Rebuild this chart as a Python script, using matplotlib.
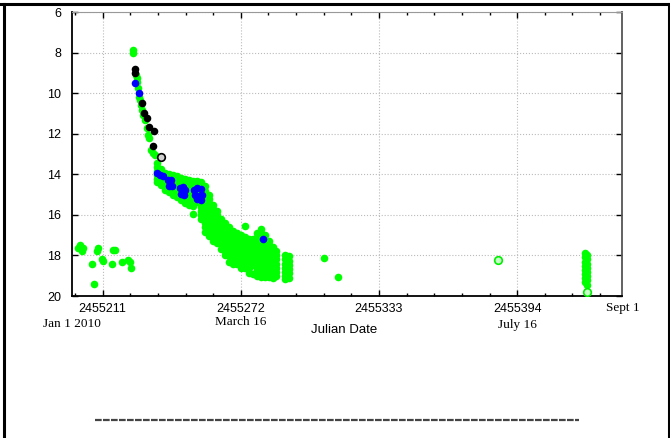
import matplotlib
matplotlib.use('Agg')
import matplotlib.pyplot as plt
from matplotlib.ticker import AutoMinorLocator, FixedLocator, FixedFormatter
from matplotlib.lines import Line2D

# green observations: (julian date, [magnitudes on that night])
green_nights = [
    (2455200.3, [17.65]), (2455201.0, [17.48]), (2455201.8, [17.8]),
    (2455202.5, [17.65]), (2455206.2, [18.42]), (2455207.2, [19.41]),
    (2455208.4, [17.8]), (2455209.1, [17.65]), (2455210.6, [18.19]),
    (2455211.3, [18.26]), (2455215.3, [18.42]), (2455215.7, [17.73]),
    (2455216.5, [17.73]), (2455219.4, [18.34]), (2455222.4, [18.22]),
    (2455223.1, [18.34]), (2455223.4, [18.63]),
    (2455224.6, [7.87, 8.04]), (2455225.8, [9.1]), (2455226.1, [9.27]),
    (2455226.3, [9.43]), (2455226.8, [9.76]), (2455227.2, [10.17]),
    (2455227.5, [10.34]), (2455228.0, [10.58]), (2455228.3, [10.83]),
    (2455229.0, [11.08]), (2455229.9, [11.32]), (2455230.7, [11.73]),
    (2455231.2, [12.06]), (2455231.6, [12.22]), (2455232.2, [12.8]),
    (2455233.1, [12.96]), (2455234.1, [13.05]),
    (2455235.0, [13.45, 13.65, 13.85, 14.05, 14.25, 14.4]),
    (2455236.8, [13.75, 13.95, 14.15, 14.35, 14.55]),
    (2455238.6, [13.95, 14.15, 14.35, 14.55, 14.75]),
    (2455240.3, [14.0, 14.2, 14.4, 14.6, 14.85]),
    (2455242.1, [14.05, 14.25, 14.45, 14.65, 14.85, 15.0]),
    (2455243.9, [14.1, 14.3, 14.5, 14.7, 14.9, 15.1]),
    (2455245.6, [14.2, 14.4, 14.6, 14.8, 15.0, 15.25]),
    (2455247.4, [14.25, 14.45, 14.65, 14.85, 15.05, 15.25, 15.4]),
    (2455249.2, [14.3, 14.5, 14.7, 14.9, 15.1, 15.3, 15.5]),
    (2455250.9, [14.35, 14.55, 14.75, 14.95, 15.15, 15.35, 15.55, 15.95]),
    (2455252.7, [14.35, 14.55, 14.75, 14.95, 15.15, 15.35]),
    (2455254.5, [14.4, 14.6, 14.8, 15.0, 15.2, 15.4, 15.6, 15.8, 16.0, 16.2]),
    (2455256.2, [14.6, 14.8, 15.0, 15.2, 15.4, 15.6, 15.8, 16.0, 16.2, 16.4, 16.6, 16.85]),
    (2455258.0, [15.0, 15.2, 15.4, 15.6, 15.8, 16.0, 16.2, 16.4, 16.6, 16.8, 17.05]),
    (2455259.8, [15.5, 15.7, 15.9, 16.1, 16.3, 16.5, 16.7, 16.9, 17.1, 17.3]),
    (2455261.5, [15.8, 16.0, 16.2, 16.4, 16.6, 16.8, 17.0, 17.2, 17.4]),
    (2455263.3, [16.2, 16.4, 16.6, 16.8, 17.0, 17.2, 17.45, 17.7]),
    (2455265.0, [16.4, 16.6, 16.8, 17.0, 17.2, 17.4, 17.6, 17.8, 18.0]),
    (2455266.8, [16.6, 16.8, 17.0, 17.2, 17.4, 17.6, 17.8, 18.05, 18.3]),
    (2455268.6, [16.8, 17.0, 17.2, 17.4, 17.6, 17.8, 18.0, 18.2, 18.4]),
    (2455270.3, [16.9, 17.1, 17.3, 17.5, 17.7, 17.9, 18.1, 18.4]),
    (2455272.1, [17.0, 17.2, 17.4, 17.6, 17.8, 18.0, 18.2, 18.4, 18.6]),
    (2455273.9, [16.55, 17.1, 17.3, 17.5, 17.7, 17.9, 18.1, 18.3, 18.6]),
    (2455275.6, [17.2, 17.4, 17.6, 17.8, 18.0, 18.2, 18.4, 18.6, 18.85]),
    (2455277.4, [17.2, 17.4, 17.6, 17.8, 18.0, 18.2, 18.45, 18.9]),
    (2455279.2, [16.9, 17.1, 17.3, 17.5, 17.7, 17.9, 18.1, 18.3, 18.5, 18.7, 19.0]),
    (2455280.9, [16.7, 16.9, 17.1, 17.3, 17.5, 17.7, 17.9, 18.1, 18.3, 18.5, 18.7, 18.9, 19.05]),
    (2455282.7, [17.0, 17.3, 17.5, 17.7, 17.9, 18.1, 18.3, 18.5, 18.7, 18.9, 19.05]),
    (2455284.5, [17.3, 17.5, 17.7, 17.9, 18.1, 18.3, 18.5, 18.7, 18.9, 19.05]),
    (2455286.2, [17.6, 17.8, 18.0, 18.2, 18.4, 18.6, 18.8, 19.1]),
    (2455287.6, [17.8, 18.0, 18.2, 18.4, 18.6, 18.8, 19.0]),
    (2455291.5, [18.0, 18.2, 18.4, 18.6, 18.8, 19.0, 19.15]),
    (2455293.3, [18.05, 18.25, 18.45, 18.65, 18.85, 19.1]),
    (2455308.8, [18.14]), (2455314.8, [19.04]),
    (2455423.8, [17.9, 18.1, 18.3, 18.5, 18.7, 18.9, 19.1, 19.3]),
    (2455424.8, [18.0, 18.2, 18.4, 18.6, 18.8, 19.0, 19.2, 19.45]),
]
# green points drawn as rings
green_open_jd = [2455385.7, 2455424.9]
green_open_mag = [18.22, 19.8]

black_jd = [2455225.1, 2455225.4, 2455228.3, 2455229.3, 2455230.5,
            2455231.5, 2455233.7, 2455233.4]
black_mag = [8.82, 9.02, 10.5, 10.99, 11.24, 11.68, 11.85, 12.6]
black_open_jd = [2455236.8]
black_open_mag = [13.16]

blue_jd = [2455225.3, 2455227.2, 2455234.9, 2455236.4, 2455237.8,
           2455239.9, 2455240.8, 2455241.7, 2455240.3, 2455241.3,
           2455245.2, 2455246.3, 2455247.4, 2455245.6, 2455246.8, 2455246.3,
           2455251.3, 2455252.7, 2455254.5, 2455251.8, 2455253.6, 2455254.9,
           2455254.5, 2455252.5, 2455282.0]
blue_mag = [9.51, 9.98, 13.92, 14.03, 14.1,
            14.3, 14.4, 14.6, 14.6, 14.3,
            14.7, 14.62, 14.75, 14.95, 15.0, 14.85,
            14.75, 14.7, 14.72, 15.0, 15.05, 15.0,
            15.25, 15.2, 17.17]

jd_ticks = [2455211, 2455272, 2455333, 2455394]
jd_labels = ['2455211', '2455272', '2455333', '2455394']
mag_ticks = [6, 8, 10, 12, 14, 16, 18, 20]
date_marks = [(2455197.5, 'Jan 1 2010', -0.097),
              (2455272, 'March 16', -0.093),
              (2455394, 'July 16', -0.101),
              (2455440.5, 'Sept 1', -0.042)]

plt.rcParams['font.family'] = ['Liberation Sans', 'DejaVu Sans']

green_jd = [jd for jd, mags in green_nights for m in mags]
green_mag = [m for jd, mags in green_nights for m in mags]

fig = plt.figure(figsize=(6.7, 4.38), dpi=100)
ax = fig.add_axes([0.1075, 0.3242, 0.8216, 0.6484])

ms = 30
ax.scatter(green_jd, green_mag, s=ms, color='#00ff00', linewidths=0, zorder=3)
ax.scatter(green_open_jd, green_open_mag, s=ms, facecolor='#c8ffc8',
           edgecolor='#00ee00', linewidths=1.2, zorder=3)
ax.scatter(black_jd, black_mag, s=ms, color='black', linewidths=0, zorder=4)
ax.scatter(black_open_jd, black_open_mag, s=ms, facecolor='#d0d0d0',
           edgecolor='black', linewidths=1.2, zorder=4)
ax.scatter(blue_jd, blue_mag, s=ms, color='#0000ff', linewidths=0, zorder=5)

ax.set_xlim(2455197.5, 2455440.5)
ax.set_ylim(20, 6)

ax.xaxis.set_major_locator(FixedLocator(jd_ticks))
ax.xaxis.set_major_formatter(FixedFormatter(jd_labels))
ax.xaxis.set_minor_locator(AutoMinorLocator(5))
ax.set_yticks(mag_ticks)

ax.tick_params(which='both', direction='in', top=True, right=True,
               labelsize=9, colors='black')
ax.tick_params(which='major', length=4, width=1)
ax.tick_params(which='minor', length=2.5, width=1)
ax.tick_params(axis='y', pad=8)
ax.tick_params(axis='x', pad=5)

ax.grid(True, which='major', linestyle=':', color='#bbbbbb', linewidth=0.8)
ax.set_axisbelow(True)

for side in ['left', 'bottom']:
    ax.spines[side].set_linewidth(1.3)
    ax.spines[side].set_color('black')
ax.spines['top'].set_color('#999999')
ax.spines['right'].set_color('#555555')
ax.spines['right'].set_linewidth(1.3)

for jd, txt, y in date_marks:
    ax.text(jd, y, txt, transform=ax.get_xaxis_transform(), ha='center',
            va='center', fontsize=9.5, family='Liberation Serif')

ax.set_xlabel('Julian Date', fontsize=9.5)
ax.xaxis.set_label_coords(0.494, -0.097)

# page frame and rule underneath
fig.add_artist(Line2D([0, 1], [0.9913, 0.9913], color='black', lw=2.2))
fig.add_artist(Line2D([0.0057, 0.0057], [0, 0.9913], color='black', lw=2.2))
fig.add_artist(Line2D([0.9978, 0.9978], [0, 0.9913], color='black', lw=2.2))
fig.add_artist(Line2D([0.1418, 0.864], [0.0411, 0.0411], color='#444444',
                      lw=1.6, linestyle=(0, (3, 0.6))))

plt.savefig('out.png', dpi=100)
